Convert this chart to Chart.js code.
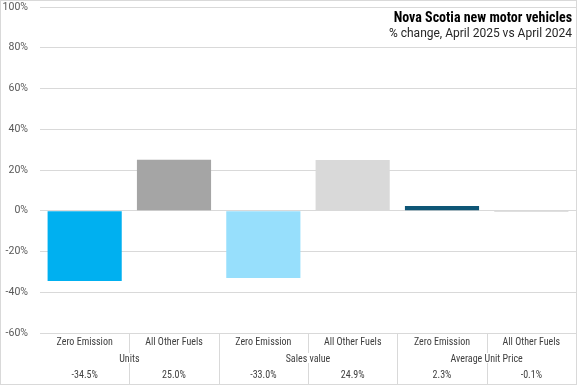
<!DOCTYPE html>
<html>
<head>
<meta charset="utf-8">
<script src="https://cdn.jsdelivr.net/npm/chart.js@4"></script>
<style>
  html, body { margin: 0; padding: 0; background: #fff; }
  #wrap { width: 577px; height: 385px; position: relative; }
</style>
</head>
<body>
<div id="wrap"><canvas id="chart" width="577" height="385"></canvas></div>
<script>
// ---- data ----
const categories = ['Zero Emission', 'All Other Fuels', 'Zero Emission', 'All Other Fuels', 'Zero Emission', 'All Other Fuels'];
const groups     = ['Units', 'Sales value', 'Average Unit Price'];
const values     = [-34.5, 25.0, -33.0, 24.9, 2.3, -0.1];
const valueLabels = ['-34.5%', '25.0%', '-33.0%', '24.9%', '2.3%', '-0.1%'];
const barColors  = ['#00B0F0', '#A5A5A5', '#97DFFC', '#D9D9D9', '#0E5676', '#7F7F7F'];
const yTicks     = [-60, -40, -20, 0, 20, 40, 60, 80, 100];

const titleText    = 'Nova Scotia new motor vehicles';
const subtitleText = '% change, April 2025 vs April 2024';

const FONT = "Roboto, 'Liberation Sans', sans-serif";
const NARROW = "'Roboto Condensed', Roboto, sans-serif";
const LINE = '#D9D9D9';
const TEXT = '#404040';

// draws the header text, the category/value table under the plot and the outer border
const decorations = {
  id: 'decorations',
  afterDraw(chart) {
    const ctx = chart.ctx;
    const area = chart.chartArea;
    const x = chart.scales.x;
    const n = categories.length;
    const w = (area.right - area.left) / n;
    const top = area.bottom;
    const row1 = top + 20, row2 = top + 30, bottom = chart.height - 1;

    ctx.save();
    ctx.strokeStyle = LINE;
    ctx.lineWidth = 1;

    // vertical separators
    for (let i = 1; i < n; i++) {
      const px = Math.round(area.left + i * w) + 0.5;
      ctx.beginPath();
      if (i % 2 === 0) {
        ctx.moveTo(px, top); ctx.lineTo(px, bottom);
      } else {
        ctx.moveTo(px, top); ctx.lineTo(px, row1);
        ctx.moveTo(px, row2); ctx.lineTo(px, bottom);
      }
      ctx.stroke();
    }

    // outer border of the chart
    ctx.strokeRect(0.5, 0.5, chart.width - 1, chart.height - 1);

    // category labels
    ctx.fillStyle = TEXT;
    ctx.textAlign = 'center';
    ctx.textBaseline = 'middle';
    ctx.font = '10px ' + NARROW;
    categories.forEach((c, i) => {
      ctx.fillText(c, x.getPixelForValue(i), top + 9);
    });
    // group labels
    groups.forEach((g, i) => {
      const cx = (x.getPixelForValue(i * 2) + x.getPixelForValue(i * 2 + 1)) / 2;
      ctx.fillText(g, cx, top + 26);
    });
    // value row
    valueLabels.forEach((v, i) => {
      ctx.fillText(v, x.getPixelForValue(i), top + 42);
    });

    // title block
    ctx.textAlign = 'right';
    ctx.fillStyle = '#000';
    ctx.font = 'bold 14px ' + NARROW;
    ctx.fillText(titleText, area.right - 4, 18);
    ctx.font = '12px ' + FONT;
    ctx.fillStyle = '#262626';
    ctx.fillText(subtitleText, area.right - 4, 34);
    ctx.restore();
  }
};

new Chart(document.getElementById('chart'), {
  type: 'bar',
  data: {
    labels: categories,
    datasets: [{
      data: values,
      backgroundColor: barColors,
      borderWidth: 0,
      categoryPercentage: 1,
      barPercentage: 0.83,
    }]
  },
  options: {
    responsive: false,
    animation: false,
    layout: { padding: { top: 7, right: 1, bottom: 52, left: 0 } },
    plugins: {
      legend: { display: false },
      tooltip: { enabled: false }
    },
    scales: {
      x: { display: false },
      y: {
        min: -60,
        max: 100,
        afterBuildTicks: s => { s.ticks = yTicks.map(v => ({ value: v })); },
        afterFit: s => { s.width = 40; s.paddingTop = 0; s.paddingBottom = 0; },
        border: { display: false },
        grid: { color: LINE, drawTicks: false },
        ticks: {
          padding: 12,
          color: '#595959',
          font: { size: 10.5, family: FONT },
          callback: v => v + '%'
        }
      }
    }
  },
  plugins: [decorations]
});
</script>
</body>
</html>
